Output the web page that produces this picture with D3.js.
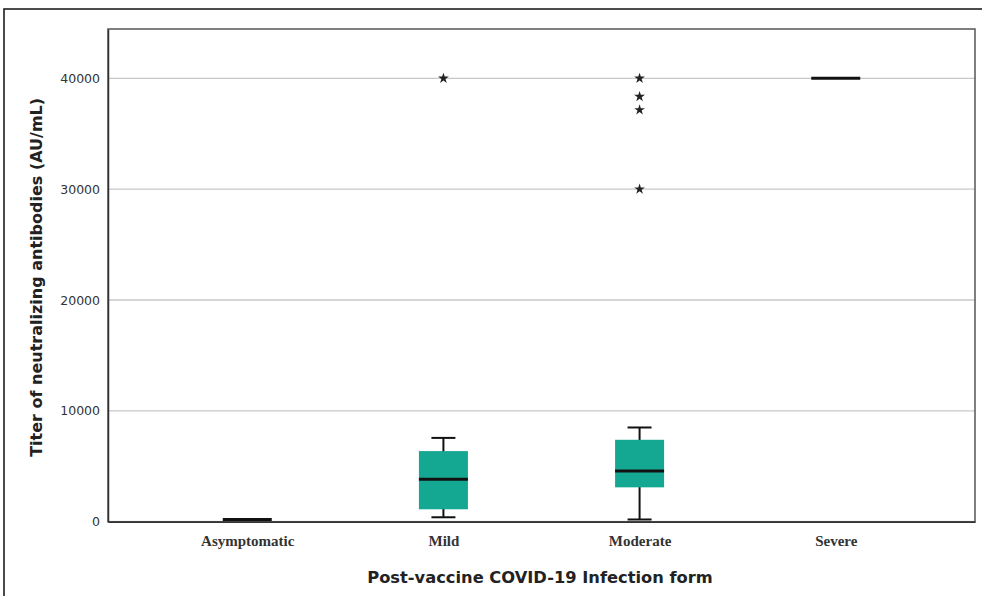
<!DOCTYPE html>
<html><head><meta charset="utf-8">
<script src="https://cdn.jsdelivr.net/npm/d3@7"></script>
<style>body{margin:0;background:#fff}svg{display:block}</style>
</head><body>
<svg id="c" width="982" height="596"></svg>
<script>
const categories = ["Asymptomatic", "Mild", "Moderate", "Severe"];
// box stats: [lowWhisker, q1, median, q3, highWhisker]
const boxStats = [
  [200, 200, 200, 200, 200],
  [400, 1120, 3820, 6370, 7560],
  [200, 3100, 4570, 7390, 8500],
  [40000, 40000, 40000, 40000, 40000]
];
const outliers = [
  [],
  [40000],
  [40000, 38350, 37150, 30000],
  []
];
const yTicks = [0, 10000, 20000, 30000, 40000];

const svg = d3.select("#c");
const L = 108, R = 975, T = 29, B = 521.7;

const x = d3.scalePoint().domain(categories).range([L, R]).padding(0.71);
const y = d3.scaleLinear().domain([0, 44450]).range([B, T]);

// outer frame
svg.append("path").attr("d", `M4,596 V9 H982`).attr("fill", "none").attr("stroke", "#111").attr("stroke-width", 1.5);

// gridlines
svg.append("g").selectAll("line").data(yTicks.filter(d => d > 0)).join("line")
  .attr("x1", L).attr("x2", R).attr("y1", d => y(d)).attr("y2", d => y(d))
  .attr("stroke", "#c8c8c8").attr("stroke-width", 1.3);

// plot frame
svg.append("rect").attr("x", L).attr("y", T).attr("width", R - L).attr("height", B - T)
  .attr("fill", "none").attr("stroke", "#555").attr("stroke-width", 1.5);

// y axis
const yAxis = d3.axisLeft(y).tickValues(yTicks).tickSize(0).tickPadding(8).tickFormat(d3.format("d"));
const ga = svg.append("g").attr("transform", `translate(${L},0)`).call(yAxis);
ga.select(".domain").attr("stroke", "#333").attr("stroke-width", 1.5);
ga.selectAll("text").attr("font-family", "DejaVu Sans").attr("font-size", 12.5).attr("fill", "#333");

// x axis labels
const xAxis = d3.axisBottom(x).tickSize(0).tickPadding(14);
const gx = svg.append("g").attr("transform", `translate(0,${B})`).call(xAxis);
gx.select(".domain").attr("stroke", "#333").attr("stroke-width", 1.5);
gx.selectAll("text").attr("font-family", "Liberation Serif").attr("font-weight", "bold").attr("font-size", 15).attr("fill", "#333");

const bw = 49, cw = 24;
const teal = "#14a892";
const boxes = svg.append("g").selectAll("g").data(categories).join("g");
boxes.each(function(c, i) {
  const g = d3.select(this);
  const cx = x(c);
  const [lo, q1, md, q3, hi] = boxStats[i];
  if (q3 > q1) {
    g.append("line").attr("x1", cx).attr("x2", cx).attr("y1", y(hi)).attr("y2", y(lo)).attr("stroke", "#111").attr("stroke-width", 2);
    g.append("line").attr("x1", cx - cw / 2).attr("x2", cx + cw / 2).attr("y1", y(hi)).attr("y2", y(hi)).attr("stroke", "#111").attr("stroke-width", 2);
    g.append("line").attr("x1", cx - cw / 2).attr("x2", cx + cw / 2).attr("y1", y(lo)).attr("y2", y(lo)).attr("stroke", "#111").attr("stroke-width", 2);
    g.append("rect").attr("x", cx - bw / 2).attr("y", y(q3)).attr("width", bw).attr("height", y(q1) - y(q3)).attr("fill", teal);
  }
  g.append("line").attr("x1", cx - bw / 2).attr("x2", cx + bw / 2).attr("y1", y(md)).attr("y2", y(md)).attr("stroke", "#111").attr("stroke-width", 3);
  const star = d3.symbol().type(d3.symbolStar).size(36);
  g.selectAll("path.o").data(outliers[i]).join("path").attr("class", "o")
    .attr("transform", d => `translate(${cx},${y(d)})`).attr("d", star).attr("fill", "#222");
});

// axis titles
svg.append("text").attr("transform", `translate(42,${(T + B) / 2 + 2}) rotate(-90)`).attr("text-anchor", "middle")
  .attr("font-family", "DejaVu Sans").attr("font-weight", "bold").attr("font-size", 16).attr("fill", "#222")
  .text("Titer of neutralizing antibodies (AU/mL)");
svg.append("text").attr("x", 540).attr("y", 583).attr("text-anchor", "middle")
  .attr("font-family", "DejaVu Sans").attr("font-weight", "bold").attr("font-size", 16.3).attr("fill", "#222")
  .text("Post-vaccine COVID-19 Infection form");
</script>
</body></html>
